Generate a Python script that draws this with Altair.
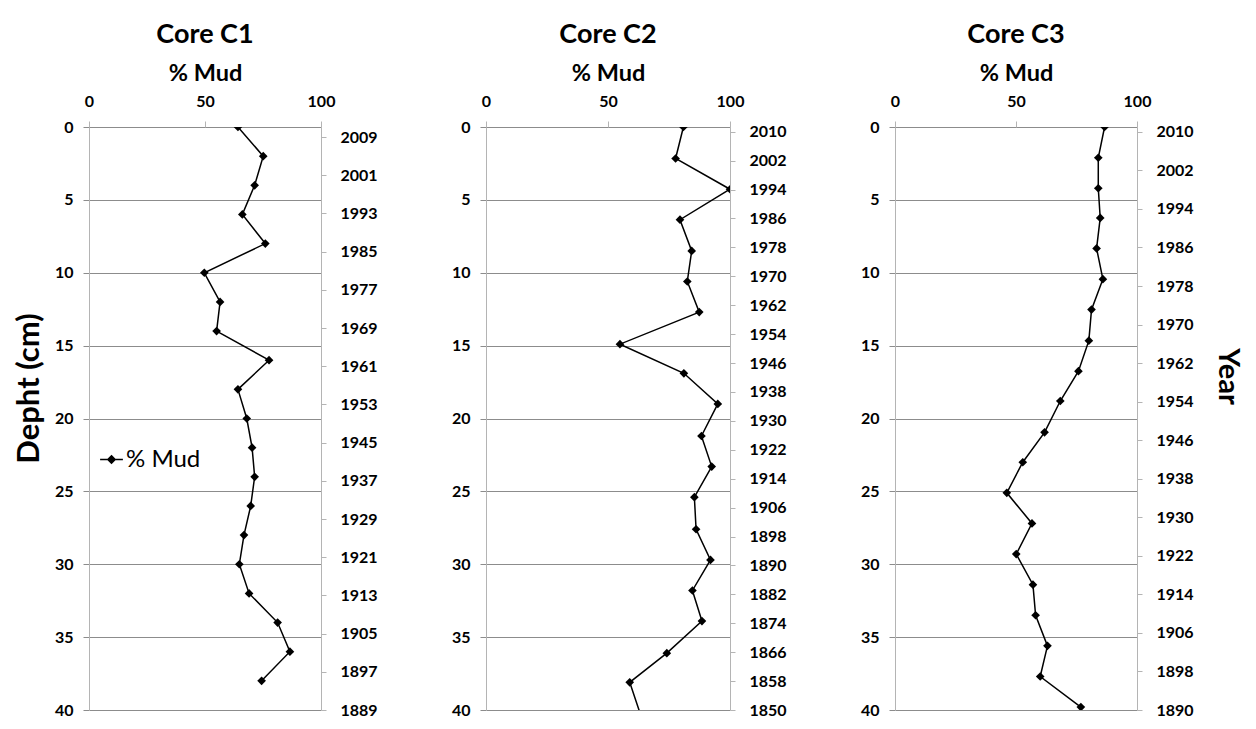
import altair as alt
import pandas as pd

# ---- data ----
c1_depth = [0, 2, 4, 6, 8, 10, 12, 14, 16, 18, 20, 22, 24, 26, 28, 30, 32, 34, 36, 38]
c1_mud = [64.2, 75.1, 71.4, 66.1, 76.0, 49.7, 56.5, 55.0, 77.6, 64.2,
          68.0, 70.3, 71.4, 69.7, 66.8, 64.8, 69.0, 81.3, 86.6, 74.4]

c2_depth = [0, 2.16, 4.27, 6.36, 8.5, 10.6, 12.7, 14.9, 16.9, 19.0,
            21.2, 23.3, 25.4, 27.6, 29.7, 31.8, 33.9, 36.1, 38.1, 40.4]
c2_mud = [80.9, 77.7, 100.0, 79.5, 84.3, 82.5, 87.4, 54.9, 81.1, 95.0,
          88.3, 92.5, 85.4, 86.1, 92.0, 84.6, 88.5, 74.1, 58.9, 63.5]

c3_depth = [0, 2.11, 4.2, 6.24, 8.33, 10.44, 12.53, 14.66, 16.75, 18.8,
            20.95, 23.0, 25.1, 27.2, 29.3, 31.4, 33.5, 35.6, 37.7, 39.8]
c3_mud = [86.6, 84.0, 84.0, 84.8, 83.3, 85.9, 81.2, 80.1, 75.8, 68.3,
          61.8, 52.8, 46.2, 56.6, 50.1, 57.0, 58.1, 63.0, 60.0, 76.8]

c1_years = [2009, 2001, 1993, 1985, 1977, 1969, 1961, 1953, 1945, 1937, 1929, 1921, 1913, 1905, 1897, 1889]
c2_years = [2010, 2002, 1994, 1986, 1978, 1970, 1962, 1954, 1946, 1938, 1930, 1922, 1914, 1906, 1898,
            1890, 1882, 1874, 1866, 1858, 1850]
c3_years = [2010, 2002, 1994, 1986, 1978, 1970, 1962, 1954, 1946, 1938, 1930, 1922, 1914, 1906, 1898, 1890]

c1_year_domain = [1889, 2011.1]
c2_year_domain = [1850, 2011.3]
c3_year_domain = [1890, 2011.0]

mud_ticks = [0, 50, 100]
depth_ticks = [0, 5, 10, 15, 20, 25, 30, 35, 40]
series_name = "% Mud"

FONT = "Lato"
GRID = "#8c8c8c"
DOMAIN = "#b4b4b4"
LEGEND_PATH = "M-1,0L1,0M0,-0.32L0.32,0L0,0.32L-0.32,0Z"


def panel(title, depth, mud, years, ydom, width, depth_title, year_title, lx, ly):
    df = pd.DataFrame({"depth": depth, "mud": mud, "series": [series_name] * len(depth)})
    x = alt.X("mud:Q", scale=alt.Scale(domain=[0, 100]),
              axis=alt.Axis(orient="top", values=mud_ticks, title="% Mud", grid=False,
                            domain=False, tickColor=DOMAIN, tickSize=6, labelPadding=12,
                            labelFlush=False, titlePadding=8))
    y = alt.Y("depth:Q", scale=alt.Scale(domain=[0, 40], reverse=True),
              axis=alt.Axis(values=depth_ticks, title=depth_title if depth_title else None,
                            grid=True, gridColor=GRID, domainColor=DOMAIN, tickColor=GRID,
                            tickSize=6, labelPadding=10, titlePadding=9,
                            titleFontSize=31, titleY=261))
    color = alt.Color("series:N", scale=alt.Scale(domain=[series_name], range=["black"]),
                      legend=alt.Legend(title=None, orient="none", legendX=lx, legendY=ly,
                                        symbolType=LEGEND_PATH, symbolSize=520,
                                        symbolStrokeWidth=1.5, symbolFillColor="black",
                                        symbolStrokeColor="black", labelFontSize=24,
                                        labelFont=FONT, labelFontWeight="normal",
                                        labelOffset=2))
    line = alt.Chart(df).mark_line(
        strokeWidth=1.5, clip=True,
        point=alt.OverlayMarkDef(shape="diamond", filled=True, size=75, clip=True)
    ).encode(x=x, y=y, color=color, order=alt.Order("depth:Q"))
    ydf = pd.DataFrame({"year": years})
    yr = alt.Chart(ydf).mark_point(opacity=0).encode(
        y=alt.Y("year:Q", scale=alt.Scale(domain=ydom, zero=False, nice=False),
                axis=alt.Axis(orient="right", values=years, format="d",
                              title=year_title if year_title else None, grid=False,
                              domainColor=DOMAIN, tickColor=DOMAIN, tickSize=5,
                              labelPadding=14, titlePadding=19, titleFontSize=29,
                              titleY=249)))
    return alt.layer(line, yr).resolve_scale(y="independent").properties(
        width=width, height=583,
        title=alt.TitleParams(title, fontSize=27, font=FONT, fontWeight="bold", offset=12))


p1 = panel("Core C1", c1_depth, c1_mud, c1_years, c1_year_domain, 232, "Depht (cm)", None, 10, 320)
p2 = panel("Core C2", c2_depth, c2_mud, c2_years, c2_year_domain, 244, None, None, 23, 319)
p3 = panel("Core C3", c3_depth, c3_mud, c3_years, c3_year_domain, 242, None, "Year", 12, 320)

chart = alt.hconcat(p1, p2, p3, spacing=165, bounds="flush").properties(
    padding={"left": 5, "top": 13, "right": 6, "bottom": 0},
).configure(
    font=FONT, background="white"
).configure_axis(
    labelFont=FONT, labelFontSize=16, labelFontWeight="bold", labelColor="black",
    titleFont=FONT, titleFontSize=23.5, titleFontWeight="bold", titleColor="black"
).configure_view(stroke=None)

chart.save("out.html", embed_options={"renderer": "svg", "actions": False})
